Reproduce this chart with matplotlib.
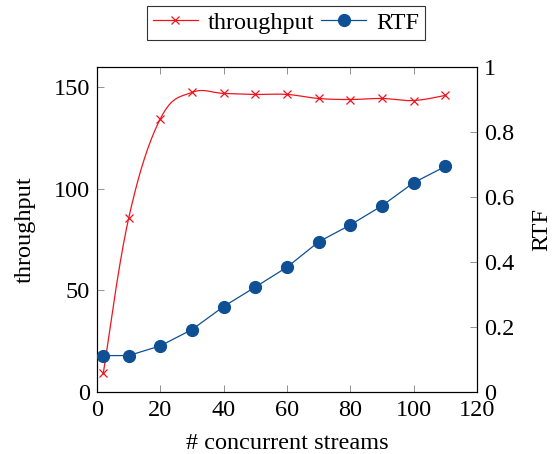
import numpy as np
import matplotlib
matplotlib.use("Agg")
import matplotlib.pyplot as plt
from matplotlib.lines import Line2D

plt.rcParams["font.family"] = ["Liberation Serif", "DejaVu Serif"]

# data
streams = [2, 10, 20, 30, 40, 50, 60, 70, 80, 90, 100, 110]
throughput = [9.3, 85.5, 134.5, 147.5, 147.0, 146.5, 146.5, 144.5, 144.0, 144.5, 143.5, 146.0]
rtf = [0.112, 0.112, 0.142, 0.192, 0.263, 0.323, 0.384, 0.462, 0.514, 0.573, 0.644, 0.694]

RED = "#f0141e"
BLUE = "#0f4f94"
FS = 17.5


def smooth(xs, ys, tension=0.55, n=30):
    # cardinal spline through the points, like pgfplots "smooth"
    xs = np.asarray(xs, float)
    ys = np.asarray(ys, float)
    out_x, out_y = [xs[0]], [ys[0]]
    for i in range(len(xs) - 1):
        p0 = np.array([xs[max(i - 1, 0)], ys[max(i - 1, 0)]])
        p1 = np.array([xs[i], ys[i]])
        p2 = np.array([xs[i + 1], ys[i + 1]])
        p3 = np.array([xs[min(i + 2, len(xs) - 1)], ys[min(i + 2, len(xs) - 1)]])
        c1 = p1 + tension / 3 * (p2 - p0)
        c2 = p2 - tension / 3 * (p3 - p1)
        t = np.linspace(0, 1, n)[1:, None]
        pts = ((1 - t) ** 3) * p1 + 3 * ((1 - t) ** 2) * t * c1 + 3 * (1 - t) * t ** 2 * c2 + t ** 3 * p2
        out_x.extend(pts[:, 0])
        out_y.extend(pts[:, 1])
    return np.array(out_x), np.array(out_y)


fig = plt.figure(figsize=(5.58, 4.54), dpi=100)
ax = fig.add_axes([0.1738, 0.1366, 0.681, 0.7158])
ax2 = ax.twinx()

sx, sy = smooth(streams, throughput)
ax.plot(sx, sy, color=RED, lw=0.9, zorder=3)
ax.plot(streams, throughput, ls="none", marker="x", ms=6, mew=0.9, color=RED, zorder=4)

ax2.plot(streams, rtf, color=BLUE, lw=0.9, marker="o", ms=8.5, zorder=3)

ax.set_xlim(0, 120)
ax.set_ylim(0, 160)
ax2.set_ylim(0, 1)
ax.set_xticks(range(0, 121, 20))
ax.set_yticks([0, 50, 100, 150])
ax2.set_yticks([0, 0.2, 0.4, 0.6, 0.8, 1])
ax2.set_yticklabels(["0", "0.2", "0.4", "0.6", "0.8", "1"])

ax.tick_params(axis="x", direction="in", top=True, length=5, width=0.6, color="#808080", labelsize=FS, pad=5.5)
ax.tick_params(axis="y", direction="in", length=5, width=0.6, color="#808080", labelsize=FS, pad=5)
ax2.tick_params(axis="y", direction="in", length=5, width=0.6, color="#808080", labelsize=FS, pad=5)

ax.set_xlabel("# concurrent streams", fontsize=FS, labelpad=9)
ax.set_ylabel("throughput", fontsize=FS, labelpad=13)
ax2.set_ylabel("RTF", fontsize=FS, labelpad=12)

for a in (ax, ax2):
    for s in a.spines.values():
        s.set_linewidth(0.8)

handles = [
    Line2D([], [], color=RED, lw=0.9, marker="x", ms=6, mew=0.9),
    Line2D([], [], color=BLUE, lw=0.9, marker="o", ms=8.5),
]
leg = fig.legend(handles, ["throughput", "RTF"], loc="center", bbox_to_anchor=(0.5125, 0.950),
                 ncol=2, fontsize=FS, frameon=True, fancybox=False, edgecolor="black",
                 handlelength=1.85, handletextpad=0.4, columnspacing=0.3, borderpad=0.25,
                 borderaxespad=0.3)
leg.get_frame().set_linewidth(0.8)

fig.savefig("out.png", dpi=100)
